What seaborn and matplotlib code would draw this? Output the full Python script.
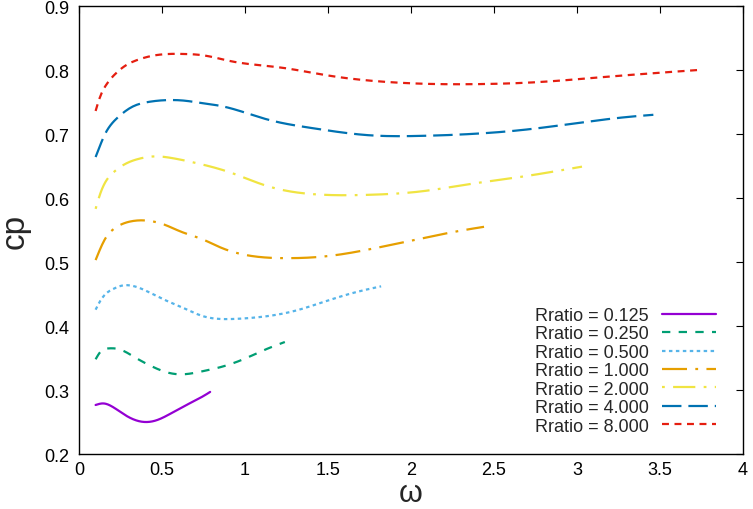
import matplotlib
matplotlib.use("Agg")
import matplotlib.pyplot as plt
import seaborn as sns
import pandas as pd
import numpy as np

# ---- data ----
ratios = ["0.125", "0.250", "0.500", "1.000", "2.000", "4.000", "8.000"]

w_0125 = [0.10, 0.147, 0.197, 0.277, 0.377, 0.458, 0.558, 0.658, 0.759, 0.79]
cp_0125 = [0.2766, 0.279, 0.2745, 0.261, 0.2505, 0.252, 0.264, 0.278, 0.292, 0.297]

w_0250 = [0.10, 0.127, 0.177, 0.237, 0.337, 0.438, 0.538, 0.618, 0.739, 0.87, 0.99, 1.13, 1.24]
cp_0250 = [0.348, 0.359, 0.365, 0.364, 0.351, 0.337, 0.327, 0.3245, 0.329, 0.337, 0.348, 0.364, 0.375]

w_0500 = [0.10, 0.13, 0.167, 0.207, 0.257, 0.317, 0.387, 0.458, 0.558, 0.639, 0.739, 0.93, 1.09,
          1.29, 1.49, 1.67, 1.82]
cp_0500 = [0.4255, 0.44, 0.4516, 0.458, 0.463, 0.463, 0.457, 0.448, 0.436, 0.427, 0.416, 0.411, 0.414,
           0.423, 0.439, 0.453, 0.462]

w_1000 = [0.10, 0.127, 0.157, 0.197, 0.257, 0.337, 0.417, 0.518, 0.618, 0.739, 0.85, 1.05, 1.25,
          1.49, 1.81, 2.05, 2.30, 2.44]
cp_1000 = [0.503, 0.52, 0.536, 0.549, 0.559, 0.5645, 0.5645, 0.558, 0.547, 0.536, 0.523, 0.509, 0.506,
           0.509, 0.523, 0.536, 0.549, 0.555]

w_2000 = [0.10, 0.127, 0.157, 0.207, 0.277, 0.357, 0.458, 0.558, 0.699, 0.91, 1.13, 1.41, 1.75,
          2.05, 2.36, 2.66, 3.03]
cp_2000 = [0.583, 0.606, 0.624, 0.64, 0.653, 0.661, 0.665, 0.6625, 0.655, 0.640, 0.619, 0.606, 0.605,
           0.610, 0.622, 0.633, 0.649]

w_4000 = [0.10, 0.127, 0.157, 0.197, 0.247, 0.317, 0.416, 0.536, 0.639, 0.747, 0.85, 1.13, 1.41,
          1.75, 2.05, 2.36, 2.66, 3.0, 3.32, 3.46]
cp_4000 = [0.664, 0.682, 0.70, 0.716, 0.729, 0.742, 0.750, 0.753, 0.752, 0.748, 0.744, 0.723, 0.709,
           0.698, 0.697, 0.700, 0.706, 0.717, 0.727, 0.730]

w_8000 = [0.10, 0.127, 0.167, 0.227, 0.287, 0.355, 0.438, 0.536, 0.639, 0.747, 0.91, 1.21, 1.51,
          1.77, 2.16, 2.42, 2.76, 3.16, 3.46, 3.73]
cp_8000 = [0.736, 0.758, 0.778, 0.796, 0.808, 0.816, 0.822, 0.825, 0.825, 0.823, 0.814, 0.804, 0.791,
           0.783, 0.778, 0.778, 0.781, 0.789, 0.795, 0.800]

series_w = [w_0125, w_0250, w_0500, w_1000, w_2000, w_4000, w_8000]
series_cp = [cp_0125, cp_0250, cp_0500, cp_1000, cp_2000, cp_4000, cp_8000]

xticks = [0, 0.5, 1, 1.5, 2, 2.5, 3, 3.5, 4]
yticks = [0.2, 0.3, 0.4, 0.5, 0.6, 0.7, 0.8, 0.9]

# ---- natural cubic spline through the read points (smooth drawing) ----
def smooth(xs, ys, n=300):
    x = np.asarray(xs, float); y = np.asarray(ys, float)
    k = len(x); h = np.diff(x)
    A = np.zeros((k, k)); b = np.zeros(k)
    A[0, 0] = 1; A[-1, -1] = 1
    for i in range(1, k - 1):
        A[i, i-1] = h[i-1]; A[i, i] = 2*(h[i-1] + h[i]); A[i, i+1] = h[i]
        b[i] = 6*((y[i+1]-y[i])/h[i] - (y[i]-y[i-1])/h[i-1])
    M = np.linalg.solve(A, b)
    xn = np.linspace(x[0], x[-1], n)
    i = np.clip(np.searchsorted(x, xn) - 1, 0, k - 2)
    t1 = x[i+1] - xn; t0 = xn - x[i]; hi = h[i]
    yn = (M[i]*t1**3 + M[i+1]*t0**3)/(6*hi) + (y[i]/hi - M[i]*hi/6)*t1 + (y[i+1]/hi - M[i+1]*hi/6)*t0
    return xn, yn

rows = []
for r, xs, ys in zip(ratios, series_w, series_cp):
    xn, yn = smooth(xs, ys)
    for a, c in zip(xn, yn):
        rows.append({"w": a, "cp": c, "ratio": f"Rratio = {r}"})
df = pd.DataFrame(rows)

sns.set_style("white")
plt.rcParams['font.family'] = ['Liberation Sans', 'DejaVu Sans']
plt.rcParams['lines.scale_dashes'] = False

colors = ["#9400D3", "#009E73", "#56B4E9", "#E69F00", "#F0E442", "#0072B2", "#E51E10"]
labels = [f"Rratio = {r}" for r in ratios]
palette = dict(zip(labels, colors))
dashes = dict(zip(labels, ["", (6, 6), (2.5, 2.5), (18, 6, 2, 6), (2, 6, 16, 6), (14, 5), (5, 4)]))

fig = plt.figure(figsize=(7.53, 5.10), dpi=100)
ax = fig.add_axes([79/753, 1 - 455/510, 664/753, 448/510])
sns.lineplot(data=df, x="w", y="cp", hue="ratio", style="ratio", palette=palette,
             dashes=dashes, hue_order=labels, style_order=labels, linewidth=1.6,
             ax=ax, sort=False, estimator=None)

ax.set_xlim(0, 4)
ax.set_ylim(0.2, 0.9)
ax.set_xticks(xticks)
ax.set_xticklabels([f"{t:g}" for t in xticks])
ax.set_yticks(yticks)
ax.set_yticklabels([f"{t:.1f}" for t in yticks])
ax.tick_params(direction="in", length=5, width=0.8, colors="black", labelsize=13,
               top=True, right=True, labeltop=False, labelright=False)
ax.tick_params(axis="y", pad=7)
ax.tick_params(axis="x", pad=5)
for s in ax.spines.values():
    s.set_color("black"); s.set_linewidth(1.0)
ax.set_xlabel("ω", fontsize=22, labelpad=0)
ax.set_ylabel("cp", fontsize=24, labelpad=10)

leg = ax.legend(loc="lower right", bbox_to_anchor=(0.978, 0.015), frameon=False,
                markerfirst=False, fontsize=13, labelspacing=0.08,
                handlelength=3.0, handletextpad=0.7, borderpad=0.2)

fig.savefig("out.png", dpi=100)
